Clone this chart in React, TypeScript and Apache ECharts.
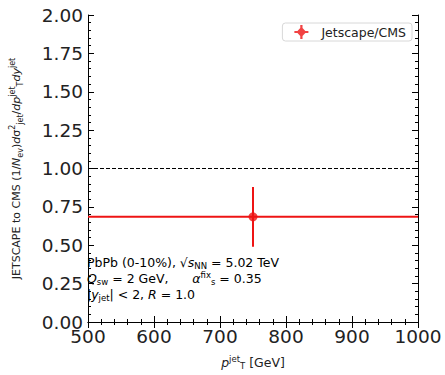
import React, { useEffect, useRef } from "react";
import * as echarts from "echarts";

const xTicks = [500, 600, 700, 800, 900, 1000];
const yTicks = [0, 0.25, 0.5, 0.75, 1.0, 1.25, 1.5, 1.75, 2.0];
const ptX = [750];
const ratio = [0.685];
const xLow = [500];
const xHigh = [1000];
const yErr = [0.195];
const refLine = [1.0];
const seriesName = "Jetscape/CMS";

const FONT = "DejaVu Sans";
const RED = "#ee1414";

export default function App() {
  const ref = useRef<HTMLDivElement>(null);
  useEffect(() => {
    if (!ref.current) return;
    const chart = echarts.init(ref.current, undefined, { renderer: "svg" });

    const hBars: any[] = [];
    const vBars: any[] = [];
    ptX.forEach((x, i) => {
      hBars.push({
        type: "line",
        data: [[xLow[i], ratio[i]], [xHigh[i], ratio[i]]],
        symbol: "none",
        lineStyle: { color: RED, width: 2 },
        silent: true,
        z: 3,
      });
      vBars.push({
        type: "line",
        data: [[x, ratio[i] - yErr[i]], [x, ratio[i] + yErr[i]]],
        symbol: "none",
        lineStyle: { color: RED, width: 2 },
        silent: true,
        z: 3,
      });
    });

    const sub = { fontSize: 8.5, lineHeight: 9, verticalAlign: "bottom", fontFamily: FONT, color: "#222" };
    const sup = { fontSize: 8.5, lineHeight: 9, verticalAlign: "top", fontFamily: FONT, color: "#222" };
    const it = { fontStyle: "italic", fontSize: 12.5, lineHeight: 16, fontFamily: FONT, color: "#222" };
    const base = { fontSize: 12.5, lineHeight: 16, fontFamily: FONT, color: "#222" };

    const ySub = { fontSize: 8, lineHeight: 8, verticalAlign: "bottom", fontFamily: FONT, color: "#222" };
    const ySup = { fontSize: 8, lineHeight: 8, verticalAlign: "top", fontFamily: FONT, color: "#222" };
    const yIt = { fontStyle: "italic", fontSize: 11, lineHeight: 16, fontFamily: FONT, color: "#222" };
    const yBase = { fontSize: 11, lineHeight: 16, fontFamily: FONT, color: "#222" };

    const axisCommon = {
      axisLine: { show: true, lineStyle: { color: "#000", width: 1 } },
      axisTick: { show: true, inside: true, length: 6, lineStyle: { color: "#000", width: 1 } },
      minorTick: { show: true, splitNumber: 5, length: 3, lineStyle: { color: "#000", width: 1 } },
      splitLine: { show: false },
    };

    chart.setOption({
      animation: false,
      grid: { left: 81, right: 27, top: 15, bottom: 45, containLabel: false },
      legend: {
        data: [
          {
            name: seriesName,
            icon: "path://M4.2,0 L5.8,0 L5.8,2.2 L7.8,4.2 L10,4.2 L10,5.8 L7.8,5.8 L5.8,7.8 L5.8,10 L4.2,10 L4.2,7.8 L2.2,5.8 L0,5.8 L0,4.2 L2.2,4.2 L4.2,2.2 Z",
          },
        ],
        right: 33,
        top: 23,
        itemWidth: 14,
        itemHeight: 14,
        itemGap: 10,
        padding: [2, 6, 2, 12],
        borderColor: "#d8d8d8",
        borderWidth: 1,
        borderRadius: 3,
        backgroundColor: "#fff",
        textStyle: { fontFamily: FONT, fontSize: 12.5, color: "#222", padding: [0, 0, 0, 8] },
      },
      xAxis: [
        {
          type: "value",
          min: 500,
          max: 1000,
          interval: 100,
          ...axisCommon,
          axisLabel: {
            show: true,
            fontFamily: FONT,
            fontSize: 18.5,
            color: "#222",
            margin: 5,
            formatter: (v: number) => String(v),
          },
          name: "{i|p}{sup|jet}{sub|T} [GeV]",
          nameLocation: "middle",
          nameGap: 32,
          nameTextStyle: {
            fontFamily: FONT,
            fontSize: 12.5,
            color: "#222",
            rich: { i: it, sub, sup },
          },
        },
        {
          type: "value",
          position: "top",
          min: 500,
          max: 1000,
          interval: 100,
          ...axisCommon,
          axisLabel: { show: false },
        },
      ],
      yAxis: [
        {
          type: "value",
          min: 0,
          max: 2,
          interval: 0.25,
          ...axisCommon,
          axisLabel: {
            show: true,
            fontFamily: FONT,
            fontSize: 18.5,
            color: "#222",
            margin: 5,
            formatter: (v: number) => v.toFixed(2),
          },
          name:
            "{b|JETSCAPE to CMS (1/}{i|N}{s|ev}{b|)}{i|d}{b|σ}{p|2}{s|jet}{b|/}{i|dp}{p|jet}{s|T}{i|dy}{p|jet}",
          nameLocation: "middle",
          nameRotate: 90,
          nameGap: 64,
          nameTextStyle: {
            fontFamily: FONT,
            fontSize: 11,
            color: "#222",
            rich: { b: yBase, i: yIt, s: ySub, p: ySup },
          },
        },
        {
          type: "value",
          position: "right",
          min: 0,
          max: 2,
          interval: 0.25,
          ...axisCommon,
          axisLabel: { show: false },
        },
      ],
      graphic: [
        {
          type: "text",
          left: 87,
          top: 256,
          style: {
            text:
              "{b|PbPb (0-10%), √}{i|s}{sub|NN}{b| = 5.02 TeV}\n{i|Q}{sub|sw}{b| = 2 GeV,      }{i|α}{sup|fix}{sub|s}{b| = 0.35}\n{b||}{i|y}{sub|jet}{b|| < 2, }{i|R}{b| = 1.0}",
            rich: { b: base, i: it, sub, sup },
            font: `12.5px "${FONT}"`,
          },
          z: 10,
        },
      ],
      series: [
        {
          type: "line",
          data: [[500, refLine[0]], [1000, refLine[0]]],
          symbol: "none",
          lineStyle: { color: "#000", width: 1, type: [4, 2] },
          silent: true,
          z: 2,
        },
        ...hBars,
        ...vBars,
        {
          name: seriesName,
          type: "scatter",
          data: ptX.map((x, i) => [x, ratio[i]]),
          symbol: "circle",
          symbolSize: 9,
          itemStyle: { color: RED },
          z: 4,
        },
      ],
    });
    return () => chart.dispose();
  }, []);
  return <div ref={ref} style={{ width: 445, height: 375, position: "absolute", left: 0, top: 0, background: "#fff" }} />;
}
